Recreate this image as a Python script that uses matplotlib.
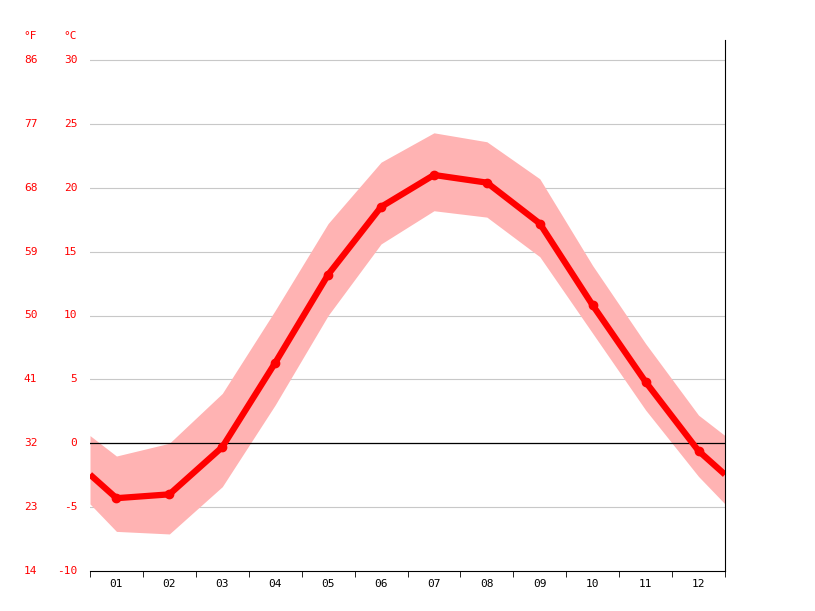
import matplotlib
matplotlib.use("Agg")
import matplotlib.pyplot as plt
import numpy as np

months = ["01","02","03","04","05","06","07","08","09","10","11","12"]
mean_c = [-4.3,-4.0,-0.3,6.3,13.2,18.5,21.0,20.4,17.2,10.8,4.8,-0.6]
upper_c = [-1.0,0.0,3.9,10.4,17.2,22.0,24.3,23.6,20.7,13.9,7.8,2.2]
lower_c = [-6.9,-7.1,-3.4,3.0,10.0,15.6,18.2,17.7,14.6,8.6,2.6,-2.6]
c_ticks = [-10,-5,0,5,10,15,20,25,30]
f_ticks = [14,23,32,41,50,59,68,77,86]

def wrap(v):
    e = (v[0]+v[-1])/2
    return [e]+list(v)+[e]

x = np.arange(1,13)
xw = np.concatenate([[0.5],x,[12.5]])

fig = plt.figure(figsize=(8.15,6.11), dpi=100)
ax = fig.add_axes([90/815, 1-571/611, 635/815, 531/611])
ax.set_xlim(0.5,12.5)
ax.set_ylim(-10, 30+20/12.775)
for c in c_ticks[1:]:
    ax.axhline(c, color="#c8c8c8", lw=0.8, zorder=0)
ax.fill_between(xw, wrap(lower_c), wrap(upper_c), color="#ffb3b3", lw=0, zorder=2)
ax.axhline(0, color="black", lw=0.9, zorder=2.5)
ax.plot(xw, wrap(mean_c), color="#ff0000", lw=4.5, zorder=3, solid_capstyle="butt")
ax.plot(x, mean_c, "o", color="#ff0000", ms=6, zorder=4)

for s in ["top","left"]:
    ax.spines[s].set_visible(False)
ax.spines["right"].set_color("black")
ax.spines["bottom"].set_color("black")
ax.spines["right"].set_bounds(-10, 30+20/12.775)
ax.set_yticks([])
ax.set_xticks(x)
ax.set_xticklabels(months, fontsize=8, family="DejaVu Sans Mono")
ax.set_xticks(np.arange(0.5,13,1), minor=True)
ax.tick_params(axis="x", which="major", length=0, pad=6)
ax.tick_params(axis="x", which="minor", length=4)

for c, f in zip(c_ticks, f_ticks):
    ax.text(-0.02, c, str(c), transform=ax.get_yaxis_transform(), color="#ff0000",
            fontsize=8, family="DejaVu Sans Mono", ha="right", va="center")
    ax.text(-0.083, c, str(f), transform=ax.get_yaxis_transform(), color="#ff0000",
            fontsize=8, family="DejaVu Sans Mono", ha="right", va="center")
fig.text(70/815, 1-36/611, "°C", color="#ff0000", fontsize=8, family="DejaVu Sans Mono", ha="center", va="center")
fig.text(30/815, 1-36/611, "°F", color="#ff0000", fontsize=8, family="DejaVu Sans Mono", ha="center", va="center")
fig.savefig("out.png", dpi=100)
